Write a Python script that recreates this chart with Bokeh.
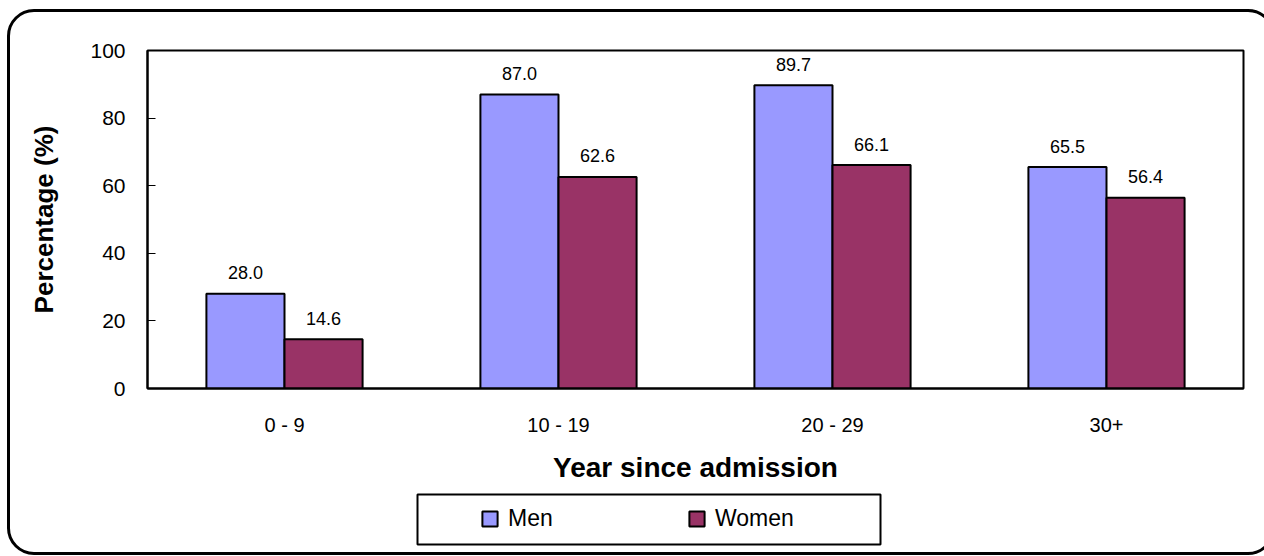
from bokeh.plotting import figure
from bokeh.layouts import column
from bokeh.models import (FactorRange, Range1d, FixedTicker, ColumnDataSource,
                          Legend, LegendItem, BoxAnnotation, InlineStyleSheet)
from bokeh.transform import dodge
from bokeh.core.properties import value
from bokeh.embed import file_html
from bokeh.resources import INLINE

# Share (%) by years since admission
categories = ["0 - 9", "10 - 19", "20 - 29", "30+"]
men = [28.0, 87.0, 89.7, 65.5]
women = [14.6, 62.6, 66.1, 56.4]
y_ticks = [0, 20, 40, 60, 80, 100]
series_names = ["Men", "Women"]

FONT = "Liberation Sans"
MEN_COLOR = "#9999FF"
WOMEN_COLOR = "#993366"
W = 1264
H_CHART = 488
H_LEGEND = 68
BORDER_L, BORDER_R = 147, 21

source = ColumnDataSource(data=dict(
    cat=categories,
    men=men,
    women=women,
    men_txt=[f"{v:.1f}" for v in men],
    women_txt=[f"{v:.1f}" for v in women],
))

# ---------------------------------------------------------------- bar chart
p = figure(
    width=W, height=H_CHART,
    x_range=FactorRange(*categories),
    y_range=Range1d(0, 100),
    output_backend="svg", toolbar_location=None,
    min_border_left=BORDER_L, min_border_right=BORDER_R,
    min_border_top=50, min_border_bottom=100,
    background_fill_color="white", border_fill_color="white",
)
p.outline_line_color = "black"
p.outline_line_width = 2
p.xgrid.visible = False
p.ygrid.visible = False

bar_w = 0.285
off = bar_w / 2
bar_style = dict(line_color="black", line_width=2)
p.vbar(x=dodge("cat", -off, range=p.x_range), top="men", width=bar_w,
       source=source, fill_color=MEN_COLOR, **bar_style)
p.vbar(x=dodge("cat", off, range=p.x_range), top="women", width=bar_w,
       source=source, fill_color=WOMEN_COLOR, **bar_style)

# value labels above the bars
for col, txt, dx in (("men", "men_txt", -off), ("women", "women_txt", off)):
    p.text(x=dodge("cat", dx, range=p.x_range), y=col, text=txt, source=source,
           y_offset=-21, text_align="center", text_baseline="middle",
           text_font=value(FONT), text_font_size="18px", text_color="black")

# y axis
ya = p.yaxis[0]
ya.ticker = FixedTicker(ticks=y_ticks)
ya.axis_line_width = 2
ya.axis_line_color = "black"
ya.major_tick_in = 8
ya.major_tick_out = 0
ya.major_tick_line_width = 1
ya.minor_tick_in = 0
ya.minor_tick_out = 0
ya.major_label_standoff = 22
ya.major_label_text_font = FONT
ya.major_label_text_font_size = "21px"
ya.major_label_text_color = "black"
ya.axis_label = "Percentage (%)"
ya.axis_label_text_font = FONT
ya.axis_label_text_font_size = "26px"
ya.axis_label_text_font_style = "bold"
ya.axis_label_text_color = "black"
ya.axis_label_standoff = 28

# x axis
xa = p.xaxis[0]
xa.axis_line_width = 2
xa.axis_line_color = "black"
xa.major_tick_in = 0
xa.major_tick_out = 0
xa.major_label_standoff = 25
xa.major_label_text_font = FONT
xa.major_label_text_font_size = "20px"
xa.major_label_text_color = "black"
xa.axis_label = "Year since admission"
xa.axis_label_text_font = FONT
xa.axis_label_text_font_size = "28px"
xa.axis_label_text_font_style = "bold"
xa.axis_label_text_color = "black"
xa.axis_label_standoff = 13

# ---------------------------------------------------------------- legend strip
# x in this strip is measured in page pixels (frame spans the chart's frame)
lg = figure(
    width=W, height=H_LEGEND,
    x_range=Range1d(BORDER_L, W - BORDER_R), y_range=Range1d(H_LEGEND, 0),
    x_axis_location=None, y_axis_location=None,
    output_backend="svg", toolbar_location=None,
    min_border_left=BORDER_L, min_border_right=BORDER_R,
    min_border_top=0, min_border_bottom=0,
    outline_line_color=None,
    background_fill_color="white", border_fill_color="white",
)
lg.grid.visible = False

# hidden key renderers that only supply the legend swatches
key_src = ColumnDataSource(data=dict(x=[0], top=[0]))
key_men = lg.vbar(x="x", top="top", width=1, source=key_src, visible=False,
                  fill_color=MEN_COLOR, **bar_style)
key_women = lg.vbar(x="x", top="top", width=1, source=key_src, visible=False,
                    fill_color=WOMEN_COLOR, **bar_style)

legend = Legend(
    items=[LegendItem(label=series_names[0], renderers=[key_men]),
           LegendItem(label=series_names[1], renderers=[key_women])],
    orientation="horizontal",
    location=(480 - BORDER_L, 24),
    glyph_width=19, glyph_height=19,
    label_standoff=9, label_width=60, spacing=119,
    padding=0, margin=0,
    label_text_font=FONT, label_text_font_size="23px", label_text_color="black",
    border_line_alpha=0, background_fill_alpha=0,
)
lg.add_layout(legend, "center")

legend_box = BoxAnnotation(left=417, right=880, top=6, bottom=56,
                           fill_alpha=0, line_color="black", line_alpha=1.0,
                           line_width=2)
lg.add_layout(legend_box)

# rounded frame around the whole chart (its right side runs past the page edge)
frame_css = InlineStyleSheet(css="""
:host { overflow: hidden; }
:host::after {
  content: ""; position: absolute; pointer-events: none; z-index: 10;
  box-sizing: border-box;
  left: 7px; top: 9px;
  width: 1268px; min-width: 1268px; max-width: none;
  height: 546px;
  border: 3px solid black; border-radius: 27px;
}
""")

layout = column(p, lg, spacing=0, stylesheets=[frame_css])

open("out.html", "w").write(file_html(layout, INLINE))
